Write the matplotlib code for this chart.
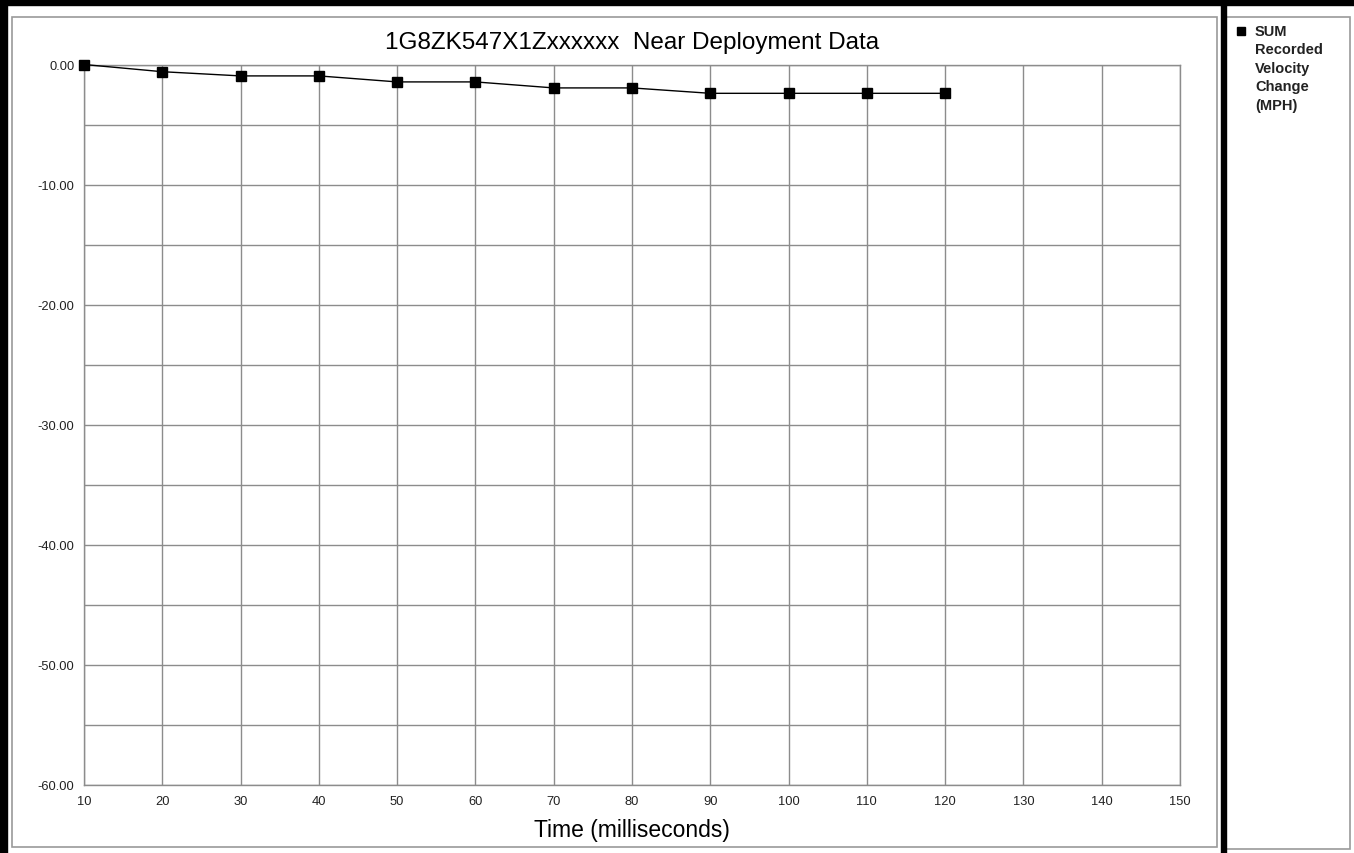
import numpy as np
import matplotlib
matplotlib.use("Agg")
import matplotlib.pyplot as plt
from matplotlib.lines import Line2D
from matplotlib.patches import Rectangle

plt.rcParams['font.family'] = ['Liberation Sans', 'DejaVu Sans']

# data
time_ms = [10, 20, 30, 40, 50, 60, 70, 80, 90, 100, 110, 120]
velocity_change = [0.0, -0.6, -0.95, -0.95, -1.45, -1.45, -1.95, -1.95, -2.4, -2.4, -2.4, -2.4]

x_ticks = [10, 20, 30, 40, 50, 60, 70, 80, 90, 100, 110, 120, 130, 140, 150]
y_ticks = [0, -10, -20, -30, -40, -50, -60]
y_minor = [-5, -15, -25, -35, -45, -55]

title = "1G8ZK547X1Zxxxxxx  Near Deployment Data"
legend_label = "SUM\nRecorded\nVelocity\nChange\n(MPH)"

W, H = 1354, 854
fig = plt.figure(figsize=(W / 100, H / 100), dpi=100)


def fx(px):
    return px / W


def fy(py):
    return 1 - py / H


ax = fig.add_axes([fx(84), fy(786), fx(1180) - fx(84), fy(65.5) - fy(786)])

ax.plot(time_ms, velocity_change, color="black", lw=1.0, marker="s",
        markersize=6.5, label=legend_label, clip_on=False, zorder=3)

ax.set_xlim(10, 150)
ax.set_ylim(-60, 0)
ax.set_xticks(x_ticks)
ax.set_xticklabels([str(t) for t in x_ticks])
ax.set_yticks(y_ticks)
ax.set_yticklabels([f"{v:.2f}" for v in y_ticks])
ax.set_yticks(y_minor, minor=True)
ax.grid(True, which="both", color="#8c8c8c", lw=1.0)
ax.set_axisbelow(True)
ax.tick_params(which="both", length=0, labelsize=9.3, colors="#222222")
ax.tick_params(axis="x", pad=7)
ax.tick_params(axis="y", pad=7)
for sp in ax.spines.values():
    sp.set_color("#8c8c8c")
    sp.set_linewidth(1.0)

ax.set_title(title, fontsize=17.5, pad=12)
ax.set_xlabel("Time (milliseconds)", fontsize=16.5, labelpad=8)

# legend in the side panel (marker next to the first line of the label)
fig.add_artist(Line2D([fx(1241)], [fy(32)], color="black", marker="s",
                      linestyle="none", markersize=6, transform=fig.transFigure))
fig.text(fx(1255), fy(25), legend_label, ha="left", va="top", fontsize=10.5,
         fontweight="bold", color="#222222", linespacing=1.4)

# chart frames
fig.add_artist(Rectangle((fx(12), fy(848)), fx(1217) - fx(12), fy(18) - fy(848),
                         fill=False, edgecolor="#9a9a9a", lw=1.2, transform=fig.transFigure))
fig.add_artist(Rectangle((fx(1226), fy(850)), fx(1350) - fx(1226), fy(18) - fy(850),
                         fill=False, edgecolor="#9a9a9a", lw=1.2, transform=fig.transFigure))
# thick black borders
fig.add_artist(Rectangle((0, 0), fx(7), 1, color="black", transform=fig.transFigure))
fig.add_artist(Rectangle((0, fy(6)), 1, fx(6) * W / H, color="black", transform=fig.transFigure))
fig.add_artist(Rectangle((fx(1221), 0), fx(5), 1, color="black", transform=fig.transFigure))

fig.savefig("out.png", dpi=100)
